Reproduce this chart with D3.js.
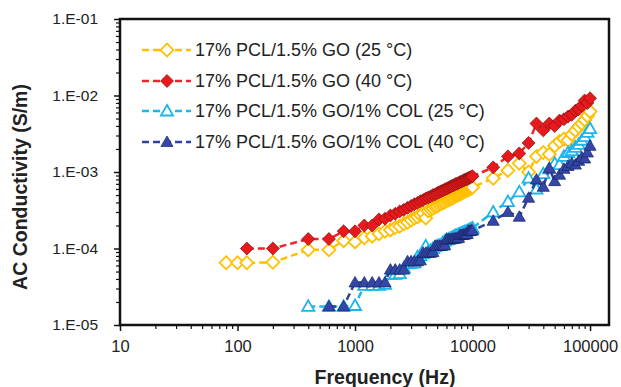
<!DOCTYPE html>
<html>
<head>
<meta charset="utf-8">
<script src="https://cdn.jsdelivr.net/npm/d3@7"></script>
<style>
  body { margin: 0; background: #fff; }
  text { font-family: Arial, "Liberation Sans", sans-serif; fill: #222; }
</style>
</head>
<body>
<svg id="chart" width="621" height="387"></svg>
<script>
// Frequencies (Hz) shared by every series
const freq = [80, 100, 120, 200, 400, 600, 800, 1000, 1200, 1400, 1600, 1800, 2000,
  2200, 2400, 2600, 2800, 3000, 3200, 3400, 3600, 3800, 4000,
  4200, 4400, 4600, 4800, 5000, 5200, 5400, 5600, 5800, 6000,
  6200, 6400, 6600, 6800, 7000, 7200, 7400, 7600, 7800, 8000,
  8200, 8400, 8600, 8800, 9000, 9200, 9400, 9600, 9800, 10000,
  15000, 20000, 25000, 30000, 35000, 40000, 45000, 50000, 55000,
  60000, 65000, 70000, 75000, 80000, 85000, 90000, 95000, 100000];

// AC conductivity (S/m), null = no reading
const go25 = [6.5e-5, 6.5e-5, 6.5e-5, 6.6e-5, 9.6e-5, 9.6e-5, 1.26e-4, 1.22e-4, 1.38e-4, 1.45e-4, 1.56e-4, 1.68e-4, 1.75e-4,
  1.88e-4, 1.95e-4, 2.1e-4, 2.2e-4, 2.35e-4, 2.5e-4, 2.6e-4, 2.75e-4, 2.9e-4, 2.5e-4,
  3.1e-4, 3.25e-4, 3.35e-4, 3.5e-4, 3.6e-4, 3.72e-4, 3.85e-4, 3.95e-4, 4.05e-4, 4.2e-4,
  4.3e-4, 4.4e-4, 4.5e-4, 4.6e-4, 4.75e-4, 4.85e-4, 4.95e-4, 5.05e-4, 5.15e-4, 5.25e-4,
  5.35e-4, 5.5e-4, 5.6e-4, 5.7e-4, 5.8e-4, 5.9e-4, 6.0e-4, 6.1e-4, 6.2e-4, 6.3e-4,
  8.3e-4, 1.05e-3, 1.3e-3, 1.0e-3, 1.6e-3, 1.8e-3, 1.7e-3, 2.2e-3, 2.5e-3,
  2.7e-3, 2.6e-3, 3.1e-3, 3.5e-3, 3.9e-3, 4.3e-3, 4.8e-3, 5.4e-3, 6.2e-3];

const go40 = [null, null, 1.0e-4, 1.0e-4, 1.33e-4, 1.33e-4, 1.68e-4, 1.68e-4, 2.0e-4, 2.0e-4, 2.4e-4, 2.45e-4, 2.7e-4,
  2.85e-4, 3.05e-4, 3.2e-4, 3.4e-4, 3.6e-4, 3.8e-4, 3.95e-4, 4.15e-4, 4.3e-4, 4.5e-4,
  4.65e-4, 4.8e-4, 5.0e-4, 5.1e-4, 5.3e-4, 5.45e-4, 5.6e-4, 5.75e-4, 5.9e-4, 6.05e-4,
  6.2e-4, 6.35e-4, 6.5e-4, 6.65e-4, 6.8e-4, 6.95e-4, 7.05e-4, 7.2e-4, 7.35e-4, 7.5e-4,
  7.6e-4, 7.75e-4, 7.9e-4, 8.0e-4, 8.15e-4, 8.3e-4, 8.4e-4, 8.55e-4, 8.65e-4, 8.8e-4,
  1.15e-3, 1.6e-3, 1.75e-3, 2.4e-3, 4.3e-3, 3.5e-3, 4.3e-3, 4.0e-3, 4.7e-3,
  4.9e-3, 5.3e-3, 5.6e-3, 6.3e-3, 6.6e-3, 7.4e-3, 8.6e-3, 8.0e-3, 9.2e-3];

const col25 = [null, null, null, null, 1.75e-5, 1.75e-5, 1.75e-5, 1.8e-5, 3.3e-5, 3.3e-5, 3.3e-5, 3.4e-5, 4.6e-5,
  4.6e-5, 4.7e-5, 5.6e-5, 6.3e-5, 6.4e-5, 6.5e-5, 7.8e-5, 8.0e-5, 8.5e-5, 1.08e-4,
  9.2e-5, 9.5e-5, 1.0e-4, 1.05e-4, 1.08e-4, 1.1e-4, 1.12e-4, 1.2e-4, 1.25e-4, 1.3e-4,
  1.32e-4, 1.35e-4, 1.38e-4, 1.4e-4, 1.45e-4, 1.48e-4, 1.5e-4, 1.52e-4, 1.55e-4, 1.58e-4,
  1.6e-4, 1.62e-4, 1.65e-4, 1.68e-4, 1.7e-4, 1.72e-4, 1.75e-4, 1.78e-4, 1.8e-4, 1.85e-4,
  3.0e-4, 4.1e-4, 5.5e-4, 8.3e-4, 6.0e-4, 9.5e-4, 1.1e-3, 1.3e-3, 1.25e-3,
  1.6e-3, 1.8e-3, 1.9e-3, 2.1e-3, 2.3e-3, 2.6e-3, 2.9e-3, 3.3e-3, 3.7e-3];

const col40 = [null, null, null, null, null, 1.75e-5, 1.75e-5, 3.6e-5, 3.6e-5, 3.6e-5, 3.6e-5, 3.6e-5, 5.3e-5,
  5.3e-5, 5.3e-5, 5.3e-5, 6.8e-5, 6.8e-5, 6.8e-5, 6.8e-5, 7.0e-5, 8.8e-5, 8.8e-5,
  8.8e-5, 8.8e-5, 9.0e-5, 1.08e-4, 1.08e-4, 1.08e-4, 1.08e-4, 1.1e-4, 1.1e-4, 1.32e-4,
  1.32e-4, 1.32e-4, 1.32e-4, 1.34e-4, 1.34e-4, 1.36e-4, 1.36e-4, 1.38e-4, 1.5e-4, 1.5e-4,
  1.5e-4, 1.52e-4, 1.52e-4, 1.55e-4, 1.55e-4, 1.7e-4, 1.7e-4, 1.7e-4, 1.72e-4, 1.72e-4,
  2.3e-4, 3.0e-4, 2.6e-4, 4.6e-4, 8.0e-4, 6.4e-4, 1.12e-3, 7.6e-4, 9.2e-4,
  1.1e-3, 1.2e-3, 1.3e-3, 1.25e-3, 1.4e-3, 1.55e-3, 1.5e-3, 1.8e-3, 2.2e-3];

const seriesNames = ["17% PCL/1.5% GO (25 °C)", "17% PCL/1.5% GO (40 °C)",
  "17% PCL/1.5% GO/1% COL (25 °C)", "17% PCL/1.5% GO/1% COL (40 °C)"];

const xTicks = [10, 100, 1000, 10000, 100000];
const xTickLabels = ["10", "100", "1000", "10000", "100000"];
const yTicks = [1e-5, 1e-4, 1e-3, 1e-2, 1e-1];
const yTickLabels = ["1.E-05", "1.E-04", "1.E-03", "1.E-02", "1.E-01"];

const styles = [
  { color: "#FFC000", fill: "#fff", stroke: "#FFC000", sw: 1.8, shape: "diamond" },
  { color: "#F0222A", fill: "#E8191C", stroke: "#8a1212", sw: 0.7, shape: "diamond" },
  { color: "#1EB4EC", fill: "#fff", stroke: "#1EB4EC", sw: 1.8, shape: "triangle" },
  { color: "#2F3F9E", fill: "#3447A8", stroke: "#1a2466", sw: 0.7, shape: "triangle" }
];
const values = [go25, go40, col25, col40];

const svg = d3.select("#chart");
const plotL = 120, plotR = 609, plotT = 19, plotB = 325;

const x = d3.scaleLog().domain([10, 145000]).range([plotL, plotR]);
const y = d3.scaleLog().domain([1e-5, 1e-1]).range([plotB, plotT]);

// minor ticks
const xMinor = x.ticks().filter(v => !xTicks.includes(v));
const yMinor = y.ticks().filter(v => !yTicks.some(t => Math.abs(t - v) / t < 1e-6));

svg.append("g").attr("transform", `translate(0,${plotB})`)
  .call(d3.axisBottom(x).tickValues(xMinor).tickFormat("").tickSize(4).tickSizeOuter(0))
  .call(g => g.select(".domain").remove())
  .selectAll("line").attr("stroke", "#111").attr("stroke-width", 1.2);
svg.append("g").attr("transform", `translate(0,${plotB})`)
  .call(d3.axisBottom(x).tickValues(xTicks).tickFormat((d, i) => xTickLabels[i]).tickSize(6).tickPadding(9).tickSizeOuter(0))
  .call(g => g.select(".domain").remove())
  .call(g => g.selectAll("line").attr("stroke", "#111").attr("stroke-width", 1.5))
  .call(g => g.selectAll("text").style("font-size", "16.5px").attr("fill", "#222"));

svg.append("g").attr("transform", `translate(${plotL},0)`)
  .call(d3.axisLeft(y).tickValues(yMinor).tickFormat("").tickSize(4).tickSizeOuter(0))
  .call(g => g.select(".domain").remove())
  .selectAll("line").attr("stroke", "#111").attr("stroke-width", 1.2);
svg.append("g").attr("transform", `translate(${plotL},0)`)
  .call(d3.axisLeft(y).tickValues(yTicks).tickFormat((d, i) => yTickLabels[i]).tickSize(6).tickPadding(16).tickSizeOuter(0))
  .call(g => g.select(".domain").remove())
  .call(g => g.selectAll("line").attr("stroke", "#111").attr("stroke-width", 1.5))
  .call(g => g.selectAll("text").style("font-size", "15.5px").attr("fill", "#222"));

// plot frame
svg.append("rect").attr("x", plotL).attr("y", plotT)
  .attr("width", plotR - plotL).attr("height", plotB - plotT)
  .attr("fill", "none").attr("stroke", "#111").attr("stroke-width", 2.5);

const diamond = d3.symbol(d3.symbolSquare, 84);
const triangle = d3.symbol(d3.symbolTriangle, 64);

function marker(sel, st) {
  sel.attr("d", st.shape === "diamond" ? diamond() : triangle())
    .attr("fill", st.fill).attr("stroke", st.stroke).attr("stroke-width", st.sw);
}

const line = d3.line()
  .defined(d => d[1] != null)
  .x(d => x(d[0])).y(d => y(d[1]));

values.forEach((vals, i) => {
  const st = styles[i];
  const pts = freq.map((f, j) => [f, vals[j]]);
  svg.append("path").datum(pts).attr("d", line)
    .attr("fill", "none").attr("stroke", st.color)
    .attr("stroke-width", 2.5).attr("stroke-dasharray", "7,4");
  svg.append("g").selectAll("path").data(pts.filter(d => d[1] != null)).join("path")
    .attr("transform", d => `translate(${x(d[0])},${y(d[1]) + (st.shape === "triangle" ? 1 : 0)}) rotate(${st.shape === "diamond" ? 45 : 0})`)
    .call(marker, st);
});

// legend
const legY = [50, 81, 111, 142];
const leg = svg.append("g");
seriesNames.forEach((name, i) => {
  const st = styles[i];
  leg.append("line").attr("x1", 142).attr("x2", 191).attr("y1", legY[i]).attr("y2", legY[i])
    .attr("stroke", st.color).attr("stroke-width", 2.5).attr("stroke-dasharray", "7,4");
  leg.append("path")
    .attr("transform", `translate(167,${legY[i] + (st.shape === "triangle" ? 1 : 0)}) rotate(${st.shape === "diamond" ? 45 : 0})`)
    .call(marker, st);
  leg.append("text").attr("x", 195).attr("y", legY[i]).attr("dy", "0.36em")
    .style("font-size", "18px").text(name);
});

// axis titles
svg.append("text").attr("x", 385).attr("y", 377).attr("dy", "0.36em")
  .attr("text-anchor", "middle").style("font-size", "19.5px").style("font-weight", "bold")
  .text("Frequency (Hz)");
svg.append("text").attr("transform", "translate(20,187) rotate(-90)").attr("dy", "0.36em")
  .attr("text-anchor", "middle").style("font-size", "19.5px").style("font-weight", "bold")
  .text("AC Conductivity (S/m)");
</script>
</body>
</html>
